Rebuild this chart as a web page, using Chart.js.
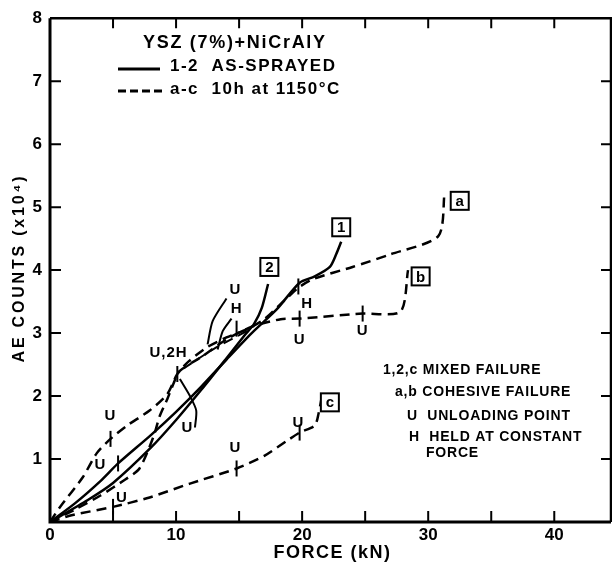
<!DOCTYPE html>
<html>
<head>
<meta charset="utf-8">
<script src="https://cdn.jsdelivr.net/npm/chart.js@4/dist/chart.umd.min.js"></script>
<style>
  html, body { margin: 0; padding: 0; background: #fff; }
  #chart { display: block; }
</style>
</head>
<body>
<canvas id="chart" width="612" height="565"></canvas>
<script>

// force (kN) / AE counts (x10^4)
const force1  = [0, 2, 4, 5.4, 8, 10, 12, 14, 16, 18, 19.8, 21, 22.2, 22.7, 23.1];
const counts1 = [0, 0.3, 0.65, 0.93, 1.38, 1.75, 2.15, 2.58, 3.0, 3.38, 3.8, 3.9, 4.05, 4.25, 4.45];

const force2  = [0, 3, 5, 8, 10, 12, 14, 15.5, 16.2, 16.8, 17.3];
const counts2 = [0, 0.35, 0.62, 1.18, 1.62, 2.1, 2.6, 2.98, 3.15, 3.4, 3.78];

const forceA  = [0, 0.8, 2.6, 3.7, 4.8, 6.1, 7.9, 9.3, 10.1, 11, 12.5, 14, 15.5, 17, 18.5, 19.7, 20.9, 24, 27, 30.8, 31.3];
const countsA = [0, 0.24, 0.71, 1.09, 1.32, 1.53, 1.77, 2.03, 2.35, 2.55, 2.78, 2.93, 3.05, 3.22, 3.5, 3.72, 3.86, 4.05, 4.25, 4.54, 5.24];

const forceB  = [0, 2, 4, 6, 7.1, 8.2, 8.7, 9.3, 9.8, 10.3, 12, 14, 16, 18.3, 19.8, 24.8, 27.8, 28.4];
const countsB = [0, 0.2, 0.42, 0.68, 0.85, 1.35, 1.68, 1.95, 2.2, 2.4, 2.62, 2.9, 3.1, 3.22, 3.23, 3.31, 3.34, 4.0];

const forceC  = [0, 1.8, 5, 7.9, 11.1, 14.8, 17, 18.8, 19.8, 21, 21.3, 21.6];
const countsC = [0, 0.11, 0.24, 0.39, 0.61, 0.85, 1.05, 1.29, 1.42, 1.53, 1.72, 2.03];

// unloading / leader strokes
const unloadX = [15.6, 13, 10.6];
const unloadY = [3.03, 2.75, 2.44];
const leaderUX = [14.0, 12.9, 12.5];
const leaderUY = [3.55, 3.19, 2.82];
const leaderHX = [14.4, 13.7, 13.3];
const leaderHY = [3.23, 3.03, 2.74];
const loopX = [10.3, 11.1, 11.6, 11.5];
const loopY = [2.27, 2.0, 1.77, 1.5];

// curve labels in boxes
const boxText = ['1', '2', 'a', 'b', 'c'];
const boxX = [23.1, 17.4, 32.5, 29.4, 22.2];
const boxY = [4.68, 4.05, 5.1, 3.9, 1.9];

// U / H notes
const noteText = ['U', 'U', 'U', 'U', 'U', 'U', 'U', 'U', 'U,2H', 'U', 'H', 'H'];
const noteX = [4.8, 14.7, 19.7, 24.8, 19.8, 5.7, 4.0, 10.9, 9.4, 14.7, 14.8, 20.4];
const noteY = [1.68, 1.17, 1.58, 3.03, 2.9, 0.38, 0.9, 1.5, 2.68, 3.69, 3.38, 3.47];

// tick marks across curves at unloading points
const markX = [4.8, 14.8, 19.8, 24.8, 19.8, 5.0, 5.4, 10.1, 19.7, 14.8];
const markY = [1.32, 0.85, 1.42, 3.31, 3.23, 0.24, 0.93, 2.35, 3.74, 3.07];

const xTicks = [0, 10, 20, 30, 40];
const yTicks = [1, 2, 3, 4, 5, 6, 7, 8];

const FONT = '"Liberation Sans", Arial, sans-serif';

function pts(xs, ys) {
    return xs.map(function (x, i) { return {x: x, y: ys[i]}; });
}

function curve(xs, ys, dashed, width) {
    return {
        data: pts(xs, ys),
        showLine: true,
        borderColor: '#000',
        borderWidth: width || 2.5,
        borderDash: dashed ? [10, 6] : [],
        pointRadius: 0,
        tension: 0.25,
        fill: false
    };
}

var decorations = {
    id: 'decorations',
    afterDraw: function (chart) {
        var ctx = chart.ctx;
        var xs = chart.scales.x, ys = chart.scales.y;
        var a = chart.chartArea;
        ctx.save();
        ctx.strokeStyle = '#000';
        ctx.fillStyle = '#000';
        ctx.lineCap = 'butt';

        // frame
        ctx.lineWidth = 3;
        ctx.beginPath();
        ctx.moveTo(a.left, a.top); ctx.lineTo(a.left, a.bottom); ctx.lineTo(a.right, a.bottom);
        ctx.stroke();
        ctx.lineWidth = 2.5;
        ctx.beginPath();
        ctx.moveTo(a.left, a.top); ctx.lineTo(a.right, a.top); ctx.lineTo(a.right, a.bottom);
        ctx.stroke();

        // inward ticks
        ctx.lineWidth = 2;
        for (var v = 5; v < 45; v += 5) {
            var px = xs.getPixelForValue(v);
            ctx.beginPath();
            ctx.moveTo(px, a.bottom); ctx.lineTo(px, a.bottom - 11);
            ctx.moveTo(px, a.top); ctx.lineTo(px, a.top + 10);
            ctx.stroke();
        }
        for (var k = 1; k < 8; k++) {
            var py = ys.getPixelForValue(k);
            ctx.beginPath();
            ctx.moveTo(a.left, py); ctx.lineTo(a.left + 11, py);
            ctx.moveTo(a.right, py); ctx.lineTo(a.right - 10, py);
            ctx.stroke();
        }

        // cross marks
        ctx.lineWidth = 2;
        markX.forEach(function (x, i) {
            var px = xs.getPixelForValue(x), py = ys.getPixelForValue(markY[i]);
            ctx.beginPath();
            ctx.moveTo(px, py - 8); ctx.lineTo(px, py + 8);
            ctx.stroke();
        });

        // notes
        ctx.font = 'bold 15px ' + FONT;
        ctx.textAlign = 'center';
        ctx.textBaseline = 'middle';
        ctx.letterSpacing = '1px';
        noteText.forEach(function (t, i) {
            ctx.fillText(t, xs.getPixelForValue(noteX[i]), ys.getPixelForValue(noteY[i]));
        });

        // boxed curve labels
        ctx.letterSpacing = '0px';
        ctx.font = 'bold 15px ' + FONT;
        ctx.lineWidth = 2;
        boxText.forEach(function (t, i) {
            var px = xs.getPixelForValue(boxX[i]), py = ys.getPixelForValue(boxY[i]);
            ctx.fillStyle = '#fff';
            ctx.fillRect(px - 9, py - 9, 18, 18);
            ctx.fillStyle = '#000';
            ctx.strokeRect(px - 9, py - 9, 18, 18);
            ctx.fillText(t, px, py + 1);
        });

        // axis titles
        ctx.font = 'bold 18px ' + FONT;
        ctx.letterSpacing = '1.5px';
        ctx.fillText('FORCE (kN)', (a.left + a.right) / 2 + 2, 553);
        ctx.save();
        ctx.translate(20, (a.top + a.bottom) / 2 - 2);
        ctx.rotate(-Math.PI / 2);
        ctx.font = 'bold 16px ' + FONT;
        ctx.letterSpacing = '2.8px';
        ctx.fillText('AE COUNTS (x10⁴)', 0, 0);
        ctx.restore();

        // key at top left
        ctx.textAlign = 'left';
        ctx.font = 'bold 18px ' + FONT;
        ctx.letterSpacing = '1.7px';
        ctx.fillText('YSZ (7%)+NiCrAlY', 143, 43);
        ctx.font = 'bold 17px ' + FONT;
        ctx.letterSpacing = '1.5px';
        ctx.fillText('1-2  AS-SPRAYED', 170, 66);
        ctx.fillText('a-c  10h at 1150°C', 170, 89);
        ctx.lineWidth = 3;
        ctx.beginPath();
        ctx.moveTo(118, 69); ctx.lineTo(160, 69);
        ctx.stroke();
        ctx.setLineDash([8, 4]);
        ctx.beginPath();
        ctx.moveTo(118, 91); ctx.lineTo(166, 91);
        ctx.stroke();
        ctx.setLineDash([]);

        // key at lower right
        ctx.font = 'bold 14px ' + FONT;
        ctx.letterSpacing = '0.8px';
        ctx.fillText('1,2,c MIXED FAILURE', 383, 370);
        ctx.fillText('a,b COHESIVE FAILURE', 395, 392);
        ctx.fillText('U  UNLOADING POINT', 407, 416);
        ctx.fillText('H  HELD AT CONSTANT', 409, 437);
        ctx.fillText('FORCE', 426, 453);

        ctx.restore();
    }
};

new Chart(document.getElementById('chart'), {
    type: 'scatter',
    data: {
        datasets: [
            curve(force1, counts1, false),
            curve(force2, counts2, false),
            curve(forceA, countsA, true),
            curve(forceB, countsB, true),
            curve(forceC, countsC, true),
            curve(unloadX, unloadY, true, 2),
            curve(leaderUX, leaderUY, false, 2),
            curve(leaderHX, leaderHY, false, 2),
            curve(loopX, loopY, false, 2)
        ]
    },
    plugins: [decorations],
    options: {
        responsive: false,
        animation: false,
        layout: { padding: { top: 15, right: 1, left: 0, bottom: 0 } },
        plugins: {
            legend: { display: false },
            tooltip: { enabled: false }
        },
        scales: {
            x: {
                type: 'linear',
                min: 0,
                max: 44.5,
                afterFit: function (s) { s.height = 43; },
                afterBuildTicks: function (s) { s.ticks = xTicks.map(function (v) { return {value: v}; }); },
                grid: { display: false, drawTicks: false },
                border: { display: false },
                ticks: { color: '#000', font: { family: FONT, size: 17, weight: 'bold' }, padding: 3, maxRotation: 0 },
                title: { display: false }
            },
            y: {
                min: 0,
                max: 8,
                afterFit: function (s) { s.width = 50; },
                afterBuildTicks: function (s) { s.ticks = yTicks.map(function (v) { return {value: v}; }); },
                grid: { display: false, drawTicks: false },
                border: { display: false },
                ticks: { color: '#000', font: { family: FONT, size: 17, weight: 'bold' }, padding: 8 },
                title: { display: false }
            }
        }
    }
});
</script>
</body>
</html>
